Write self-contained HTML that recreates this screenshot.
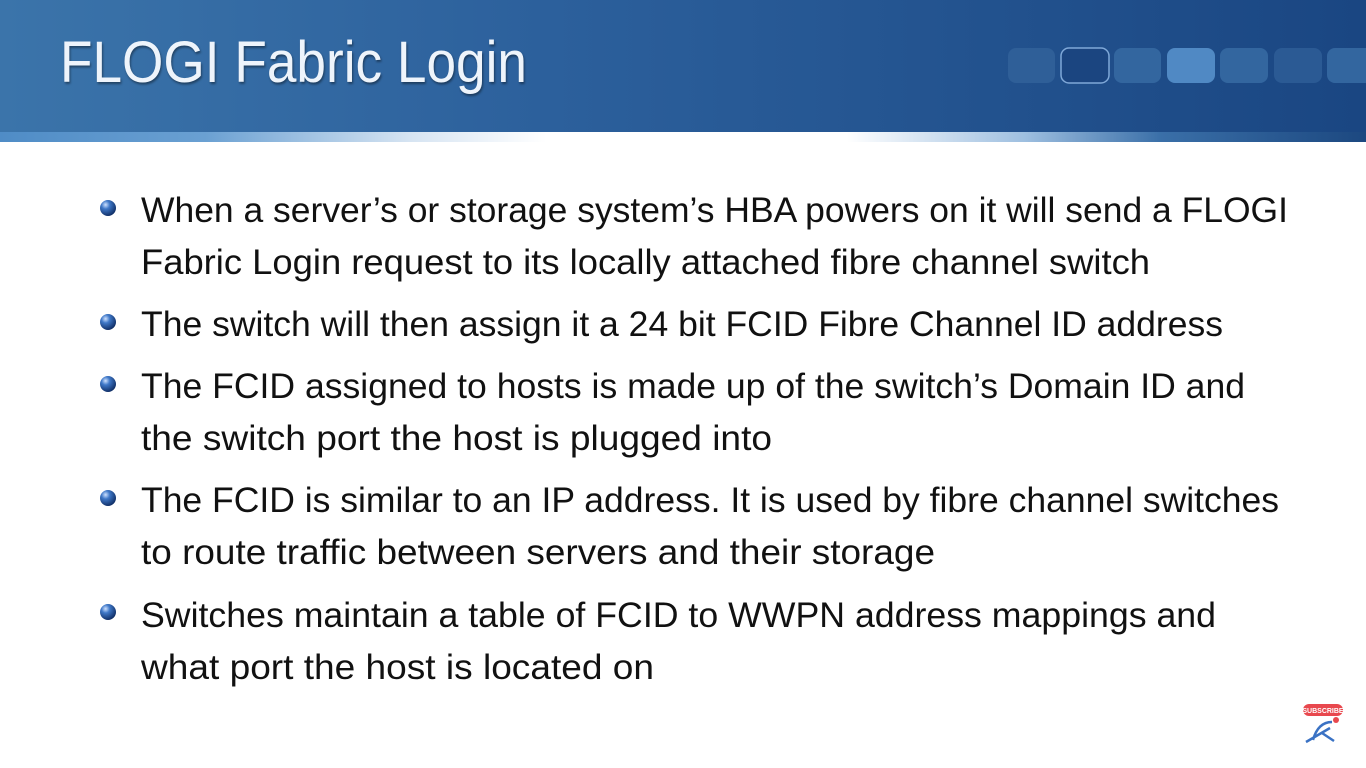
<!DOCTYPE html>
<html><head><meta charset="utf-8"><style>
html,body{margin:0;padding:0;width:1366px;height:768px;overflow:hidden;background:#fff}
</style></head><body>
<svg width="1366" height="768" xmlns="http://www.w3.org/2000/svg">
<defs>
<linearGradient id="hd" x1="0" y1="0" x2="1" y2="0">
<stop offset="0" stop-color="#3b74aa"/><stop offset="0.4" stop-color="#2c609c"/><stop offset="1" stop-color="#1a4682"/>
</linearGradient>
<linearGradient id="st" x1="0" y1="0" x2="1" y2="0">
<stop offset="0" stop-color="#4f8cc6"/><stop offset="0.15" stop-color="#6aa0d2"/><stop offset="0.3" stop-color="#d6e4f2"/><stop offset="0.4" stop-color="#ffffff"/><stop offset="0.62" stop-color="#ffffff"/><stop offset="0.75" stop-color="#9ebfe0"/><stop offset="0.85" stop-color="#3a6fa8"/><stop offset="1" stop-color="#1c4880"/>
</linearGradient>
<radialGradient id="bl" cx="0.35" cy="0.3" r="0.75">
<stop offset="0" stop-color="#cfe2ff"/><stop offset="0.35" stop-color="#3f78c8"/><stop offset="1" stop-color="#0d2a60"/>
</radialGradient>
</defs>
<rect x="0" y="0" width="1366" height="133" fill="url(#hd)"/>
<rect x="0" y="132" width="1366" height="10" fill="url(#st)"/>
<g>
<rect x="1008" y="48" width="47" height="35" rx="8" fill="#2f5f98"/>
<rect x="1061" y="48" width="48" height="35" rx="8" fill="#1b4580" stroke="#7fa8d8" stroke-width="1.5"/>
<rect x="1114" y="48" width="47" height="35" rx="8" fill="#33669f"/>
<rect x="1167" y="48" width="48" height="35" rx="8" fill="#5089c4"/>
<rect x="1220" y="48" width="48" height="35" rx="8" fill="#33669f"/>
<rect x="1274" y="48" width="48" height="35" rx="8" fill="#2b5a94"/>
<rect x="1327" y="48" width="48" height="35" rx="8" fill="#33669f"/>
</g>
<text x="60" y="82" font-family="Liberation Sans, sans-serif" font-size="58" fill="#eef4fb" textLength="467" lengthAdjust="spacingAndGlyphs" style="filter:drop-shadow(1px 2px 1px rgba(0,0,0,0.4))">FLOGI Fabric Login</text>
<g fill="url(#bl)">
<circle cx="108" cy="208" r="8"/><circle cx="108" cy="322" r="8"/><circle cx="108" cy="384" r="8"/><circle cx="108" cy="498" r="8"/><circle cx="108" cy="612" r="8"/>
</g>
<g font-family="Liberation Sans, sans-serif" font-size="35" fill="#111" lengthAdjust="spacingAndGlyphs">
<text x="141" y="222" textLength="1147" lengthAdjust="spacingAndGlyphs">When a server’s or storage system’s HBA powers on it will send a FLOGI</text>
<text x="141" y="274" textLength="1009" lengthAdjust="spacingAndGlyphs">Fabric Login request to its locally attached fibre channel switch</text>
<text x="141" y="336" textLength="1082" lengthAdjust="spacingAndGlyphs">The switch will then assign it a 24 bit FCID Fibre Channel ID address</text>
<text x="141" y="398" textLength="1104" lengthAdjust="spacingAndGlyphs">The FCID assigned to hosts is made up of the switch’s Domain ID and</text>
<text x="141" y="450" textLength="631" lengthAdjust="spacingAndGlyphs">the switch port the host is plugged into</text>
<text x="141" y="512" textLength="1138" lengthAdjust="spacingAndGlyphs">The FCID is similar to an IP address. It is used by fibre channel switches</text>
<text x="141" y="564" textLength="794" lengthAdjust="spacingAndGlyphs">to route traffic between servers and their storage</text>
<text x="141" y="627" textLength="1075" lengthAdjust="spacingAndGlyphs">Switches maintain a table of FCID to WWPN address mappings and</text>
<text x="141" y="679" textLength="513" lengthAdjust="spacingAndGlyphs">what port the host is located on</text>
</g>
<rect x="1303" y="704" width="40" height="12" rx="6" fill="#e8484e"/>
<text x="1323" y="713" font-family="Liberation Sans, sans-serif" font-size="7" font-weight="bold" fill="#fff" text-anchor="middle">SUBSCRIBE</text>
<circle cx="1336" cy="720" r="3" fill="#e8484e"/>
<path d="M1306 742 L1330 728 M1313 740 Q1318 722 1332 722 M1322 733 L1334 741" stroke="#3a72c4" stroke-width="2.5" fill="none"/>
</svg>
</body></html>
